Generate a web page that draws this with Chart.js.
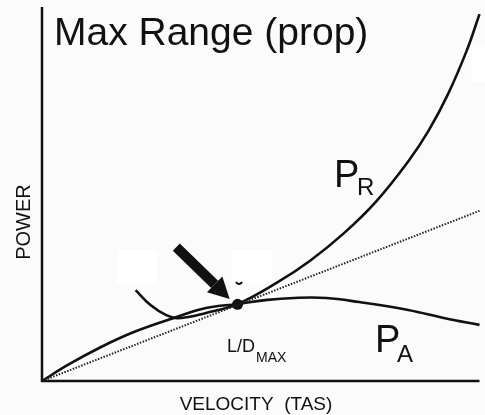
<!DOCTYPE html>
<html>
<head>
<meta charset="utf-8">
<title>Max Range (prop)</title>
<script src="https://cdn.jsdelivr.net/npm/chart.js@4.4.1/dist/chart.umd.min.js"></script>
<style>
  html, body { margin: 0; padding: 0; background: #fbfbfb; }
  canvas { display: block; }
</style>
</head>
<body>
<canvas id="chart" width="485" height="415"></canvas>
<script>
// power available (P_A) curve
const paVelocity = [0, 5.9, 13.5, 21.0, 30.0, 37.5, 44.7, 51.5, 57.6, 65.0, 72.5, 83.7, 92.1, 100];
const paPower    = [0, 4.3, 9.1, 13.1, 16.8, 19.5, 20.6, 21.7, 22.2, 22.2, 21.1, 19.0, 16.8, 15.0];

// power required (P_R) curve
const prVelocity = [21.4, 24.8, 28.4, 31.2, 37.5, 44.7, 53.7, 61.2, 68.9, 76.3, 83.7, 88.3, 92.8, 97.1, 100];
const prPower    = [24.3, 20.3, 17.6, 16.8, 18.2, 20.6, 26.3, 32.1, 39.4, 47.9, 58.7, 66.8, 76.7, 88.4, 98.1];

// tangent from the origin through L/D max
const tangentVelocity = [0, 100];
const tangentPower    = [0, 45.5];

// L/D max point
const ldMaxVelocity = [44.7];
const ldMaxPower    = [20.5];

const toPoints = (xs, ys) => xs.map((x, i) => ({ x, y: ys[i] }));

const INK = '#111111';
const FONT = '"Liberation Sans", Arial, Helvetica, sans-serif';

const decorations = {
    id: 'decorations',
    beforeDraw(chart) {
        const { ctx } = chart;
        ctx.save();
        ctx.fillStyle = '#fbfbfb';
        ctx.fillRect(0, 0, chart.width, chart.height);
        // pasted-over patches
        ctx.fillStyle = '#ffffff';
        ctx.fillRect(117, 250, 40, 35);
        ctx.fillRect(232, 250, 40, 33);
        ctx.fillRect(472, 47, 13, 35);
        ctx.restore();
    },
    afterDatasetsDraw(chart) {
        const { ctx, chartArea: a, scales: { x, y } } = chart;
        ctx.save();

        // axes
        ctx.strokeStyle = INK;
        ctx.lineWidth = 2.5;
        ctx.beginPath();
        ctx.moveTo(x.getPixelForValue(0), a.top);
        ctx.lineTo(x.getPixelForValue(0), y.getPixelForValue(0));
        ctx.lineTo(a.right, y.getPixelForValue(0));
        ctx.stroke();

        // arrow pointing at L/D max
        const tx = x.getPixelForValue(30.7), ty = y.getPixelForValue(35.8);
        const hx = x.getPixelForValue(42.9), hy = y.getPixelForValue(21.9);
        const ang = Math.atan2(hy - ty, hx - tx);
        const headLen = 21, headHalf = 11;
        const bx = hx - headLen * Math.cos(ang), by = hy - headLen * Math.sin(ang);
        ctx.lineWidth = 10;
        ctx.lineCap = 'butt';
        ctx.beginPath();
        ctx.moveTo(tx, ty);
        ctx.lineTo(bx, by);
        ctx.stroke();
        ctx.fillStyle = INK;
        ctx.beginPath();
        ctx.moveTo(hx, hy);
        ctx.lineTo(bx + headHalf * Math.sin(ang), by - headHalf * Math.cos(ang));
        ctx.lineTo(bx - headHalf * Math.sin(ang), by + headHalf * Math.cos(ang));
        ctx.closePath();
        ctx.fill();

        // small leftover mark above the point
        ctx.lineWidth = 2;
        ctx.beginPath();
        ctx.arc(239, 281, 3, 0.1 * Math.PI, 0.9 * Math.PI);
        ctx.stroke();

        // texts
        ctx.fillStyle = INK;
        ctx.textBaseline = 'alphabetic';
        ctx.textAlign = 'left';
        ctx.font = `39px ${FONT}`;
        ctx.fillText('Max Range (prop)', 54, 45);

        ctx.font = `38px ${FONT}`;
        ctx.fillText('P', 334, 187);
        ctx.fillText('P', 375, 352);
        ctx.font = `24px ${FONT}`;
        ctx.fillText('R', 357, 195);
        ctx.fillText('A', 397, 362);

        ctx.font = `18px ${FONT}`;
        ctx.fillText('L/D', 227, 352);
        ctx.font = `14px ${FONT}`;
        ctx.fillText('MAX', 256, 362);

        ctx.font = `19px ${FONT}`;
        ctx.textAlign = 'center';
        ctx.fillText('VELOCITY  (TAS)', 256, 410);

        ctx.translate(30, 222);
        ctx.rotate(-Math.PI / 2);
        ctx.font = `20px ${FONT}`;
        ctx.fillText('POWER', 0, 0);

        ctx.restore();
    }
};

new Chart(document.getElementById('chart'), {
    type: 'scatter',
    data: {
        datasets: [
            {
                label: 'tangent',
                data: toPoints(tangentVelocity, tangentPower),
                showLine: true,
                borderColor: '#222222',
                borderWidth: 2,
                borderDash: [1.5, 1.5],
                pointRadius: 0
            },
            {
                label: 'P_A',
                data: toPoints(paVelocity, paPower),
                showLine: true,
                borderColor: INK,
                borderWidth: 2.6,
                tension: 0.4,
                pointRadius: 0
            },
            {
                label: 'P_R',
                data: toPoints(prVelocity, prPower),
                showLine: true,
                borderColor: INK,
                borderWidth: 2.6,
                tension: 0.4,
                pointRadius: 0
            },
            {
                label: 'L/D max',
                data: toPoints(ldMaxVelocity, ldMaxPower),
                pointRadius: 5.5,
                pointBackgroundColor: INK,
                pointBorderColor: INK,
                pointBorderWidth: 0
            }
        ]
    },
    options: {
        responsive: false,
        animation: false,
        clip: false,
        layout: { padding: { left: 42, top: 7, right: 0, bottom: 34 } },
        plugins: { legend: { display: false }, tooltip: { enabled: false } },
        scales: {
            x: { type: 'linear', min: 0, max: 100, display: false },
            y: { type: 'linear', min: 0, max: 100, display: false }
        }
    },
    plugins: [decorations]
});
</script>
</body>
</html>
